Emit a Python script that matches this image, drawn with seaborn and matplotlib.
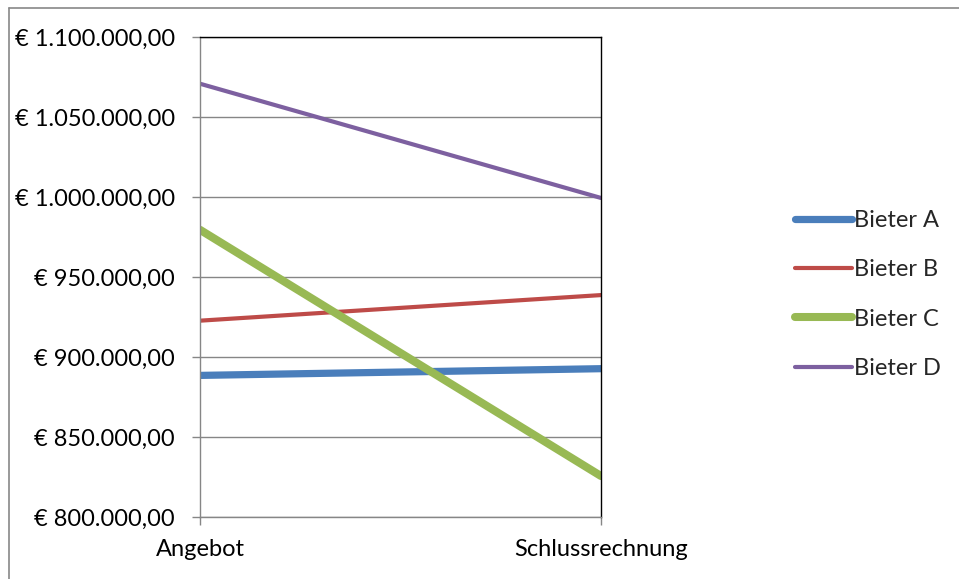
import matplotlib
matplotlib.use("Agg")
import matplotlib.pyplot as plt
from matplotlib.lines import Line2D
from matplotlib.ticker import FuncFormatter, MultipleLocator
import seaborn as sns
import pandas as pd

# Data
phases = ["Angebot", "Schlussrechnung"]
bieter = ["Bieter A", "Bieter B", "Bieter C", "Bieter D"]
bieter_a = [888500, 892700]
bieter_b = [922700, 938700]
bieter_c = [979500, 825600]
bieter_d = [1070800, 999400]

colors = ["#4A7EBB", "#BE4B48", "#98B954", "#7D60A0"]

rows = []
for name, vals in zip(bieter, [bieter_a, bieter_b, bieter_c, bieter_d]):
    for p, v in zip(phases, vals):
        rows.append({"Phase": p, "Wert": v, "Bieter": name})
df = pd.DataFrame(rows)

sns.set_theme(style="white")
plt.rcParams["font.family"] = ["Lato", "DejaVu Sans"]

FS = 17
W, H = 959, 579
fig = plt.figure(figsize=(W / 100, H / 100), dpi=100)
ax = fig.add_axes([200 / W, 1 - 517 / H, (601 - 200) / W, (517 - 37) / H])

sns.lineplot(
    data=df, x="Phase", y="Wert", hue="Bieter", size="Bieter",
    palette=dict(zip(bieter, colors)),
    sizes={"Bieter A": 5.2, "Bieter B": 3.0, "Bieter C": 5.8, "Bieter D": 3.0},
    ax=ax, solid_capstyle="round", legend=True,
)

ax.set_xlim(0, 1)
ax.set_ylim(800000, 1100000)
ax.yaxis.set_major_locator(MultipleLocator(50000))

def fmt(v, pos):
    s = f"{v:,.2f}".replace(",", "X").replace(".", ",").replace("X", ".")
    return "€ " + s

ax.yaxis.set_major_formatter(FuncFormatter(fmt))
ax.set_xlabel("")
ax.set_ylabel("")
ax.grid(axis="y", color="#868686", linewidth=1.0)
ax.grid(axis="x", visible=False)
ax.set_axisbelow(True)

for s in ["left", "bottom"]:
    ax.spines[s].set_color("#868686")
    ax.spines[s].set_linewidth(1.0)
for s in ["top", "right"]:
    ax.spines[s].set_color("black")
    ax.spines[s].set_linewidth(1.0)

ax.tick_params(axis="y", which="major", left=True, length=6, width=1,
               color="#868686", labelsize=FS, pad=12, labelcolor="black")
ax.tick_params(axis="x", which="major", bottom=True, length=6, width=1,
               color="#868686", labelsize=FS, pad=10, labelcolor="black")

handles, labels = ax.get_legend_handles_labels()
ax.legend(handles=handles, labels=labels, loc="center left",
          bbox_to_anchor=(795 / W, 1 - 294.5 / H), bbox_transform=fig.transFigure,
          frameon=False, fontsize=FS, handlelength=2.4, handletextpad=0.1,
          labelspacing=1.2, borderpad=0, borderaxespad=0)

# chart area border (top and left visible)
fig.add_artist(Line2D([9 / W, 1], [1 - 7.5 / H, 1 - 7.5 / H], transform=fig.transFigure,
                      color="#888888", linewidth=1.2))
fig.add_artist(Line2D([9 / W, 9 / W], [0, 1 - 7.5 / H], transform=fig.transFigure,
                      color="#888888", linewidth=1.2))

fig.savefig("out.png", dpi=100)
